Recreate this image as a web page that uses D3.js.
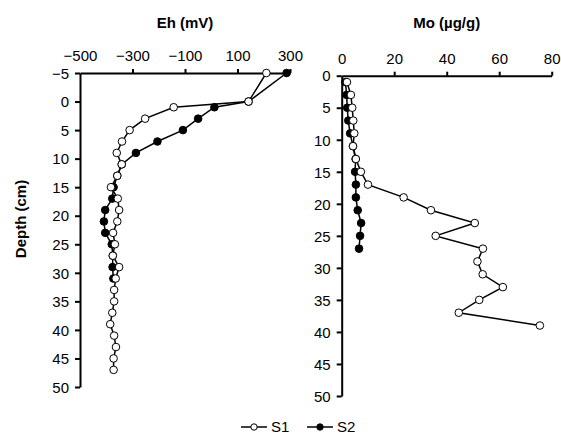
<!DOCTYPE html>
<html>
<head>
<meta charset="utf-8">
<title>Eh and Mo profiles</title>
<script src="https://d3js.org/d3.v7.min.js"></script>
<style>
body { margin: 0; background: #fff; }
svg { font-family: "Liberation Sans", Arial, sans-serif; }
.domain { stroke: #000; stroke-width: 2; }
.tick line { stroke: #000; stroke-width: 2; }
.tick text { font-size: 15px; fill: #000; }
.series { fill: none; stroke: #000; stroke-width: 1.5; }
</style>
</head>
<body>
<div id="chart"></div>
<script>
// depths (cm) and values
var ehDepthS1 = [-5, 0, 1, 3, 5, 7, 9, 11, 13, 15, 17, 19, 21, 23, 25, 27, 29, 31, 33, 35, 37, 39, 41, 43, 45, 47];
var ehS1 = [210, 142, -143, -252, -311, -340, -360, -341, -358, -382, -356, -351, -358, -374, -367, -375, -351, -364, -370, -370, -377, -385, -370, -363, -372, -372];
var ehDepthS2 = [-5, 0, 1, 3, 5, 7, 9, 11, 13, 15, 17, 19, 21, 23, 25, 27, 29, 31];
var ehS2 = [287, 142, 12, -50, -108, -205, -287, -341, -358, -372, -377, -404, -409, -404, -379, -375, -376, -373];

var moDepthS1 = [1, 3, 5, 7, 9, 11, 13, 15, 17, 19, 21, 23, 25, 27, 29, 31, 33, 35, 37, 39];
var moS1 = [2.0, 3.5, 4.0, 4.4, 4.8, 4.3, 5.4, 7.3, 10.0, 23.6, 34.0, 50.7, 35.8, 53.8, 51.7, 53.7, 61.4, 52.4, 44.6, 75.5];
var moDepthS2 = [1, 3, 5, 7, 9, 11, 13, 15, 17, 19, 21, 23, 25, 27];
var moS2 = [1.4, 1.9, 2.1, 2.5, 3.2, 4.3, 5.3, 5.1, 5.4, 5.4, 6.1, 7.4, 7.0, 6.6];

var ehTicks = [-500, -300, -100, 100, 300];
var moTicks = [0, 20, 40, 60, 80];
var depthTicksEh = [-5, 0, 5, 10, 15, 20, 25, 30, 35, 40, 45, 50];
var depthTicksMo = [0, 5, 10, 15, 20, 25, 30, 35, 40, 45, 50];

var seriesNames = ["S1", "S2"];

var width = 561, height = 435;

var svg = d3.select("#chart").append("svg")
    .attr("width", width)
    .attr("height", height);

function zip(depths, vals) {
  return depths.map(function(d, i) { return {depth: d, v: vals[i]}; });
}

function panel(opts) {
  var x = d3.scaleLinear().domain(opts.xDomain).range(opts.xRange);
  var y = d3.scaleLinear().domain(opts.yDomain).range(opts.yRange);

  svg.append("g")
      .attr("transform", "translate(0," + opts.yRange[0] + ")")
      .call(d3.axisTop(x).tickValues(opts.xTicks).tickSize(4).tickSizeOuter(0).tickPadding(8))
      .call(function(g) { g.selectAll(".tick line").filter(function(d) { return d === opts.xDomain[0]; }).remove(); });

  svg.append("g")
      .attr("transform", "translate(" + opts.xRange[0] + ",0)")
      .call(d3.axisLeft(y).tickValues(opts.yTicks).tickSize(5).tickSizeOuter(0).tickPadding(6))
      .call(function(g) { g.selectAll(".tick text").attr("dy", "0.35em"); });

  var line = d3.line()
      .x(function(d) { return x(d.v); })
      .y(function(d) { return y(d.depth); });

  // S2 first so open S1 markers sit on top
  [{data: opts.s2, fill: "#000"}, {data: opts.s1, fill: "#fff"}].forEach(function(s) {
    svg.append("path")
        .datum(s.data)
        .attr("class", "series")
        .attr("d", line);
    svg.append("g").selectAll("circle")
        .data(s.data)
      .enter().append("circle")
        .attr("cx", function(d) { return x(d.v); })
        .attr("cy", function(d) { return y(d.depth); })
        .attr("r", 3.8)
        .attr("fill", s.fill)
        .attr("stroke", "#000")
        .attr("stroke-width", 1);
  });

  svg.append("text")
      .attr("x", (opts.xRange[0] + opts.xRange[1]) / 2)
      .attr("y", 28)
      .attr("text-anchor", "middle")
      .style("font-size", "15px")
      .style("font-weight", "bold")
      .text(opts.title);
}

panel({
  xDomain: [-500, 300], xRange: [80, 290],
  yDomain: [-5, 50], yRange: [73, 387],
  xTicks: ehTicks, yTicks: depthTicksEh,
  s1: zip(ehDepthS1, ehS1), s2: zip(ehDepthS2, ehS2),
  title: "Eh (mV)"
});

panel({
  xDomain: [0, 80], xRange: [341.7, 551.7],
  yDomain: [0, 50], yRange: [75.7, 396],
  xTicks: moTicks, yTicks: depthTicksMo,
  s1: zip(moDepthS1, moS1), s2: zip(moDepthS2, moS2),
  title: "Mo (\u00b5g/g)"
});

svg.append("text")
    .attr("transform", "translate(26,219) rotate(-90)")
    .attr("text-anchor", "middle")
    .style("font-size", "15px")
    .style("font-weight", "bold")
    .text("Depth (cm)");

// legend
var legend = svg.append("g").attr("transform", "translate(241,427)");
var item = legend.selectAll("g")
    .data(seriesNames)
  .enter().append("g")
    .attr("transform", function(d, i) { return "translate(" + (i * 66) + ",0)"; });
item.append("line")
    .attr("x1", 0).attr("x2", 26)
    .attr("stroke", "#000").attr("stroke-width", 1.5);
item.append("circle")
    .attr("cx", 13).attr("r", 3.2)
    .attr("fill", function(d, i) { return i === 0 ? "#fff" : "#000"; })
    .attr("stroke", "#000");
item.append("text")
    .attr("x", 30).attr("dy", "0.35em")
    .style("font-size", "15px")
    .text(function(d) { return d; });
</script>
</body>
</html>
